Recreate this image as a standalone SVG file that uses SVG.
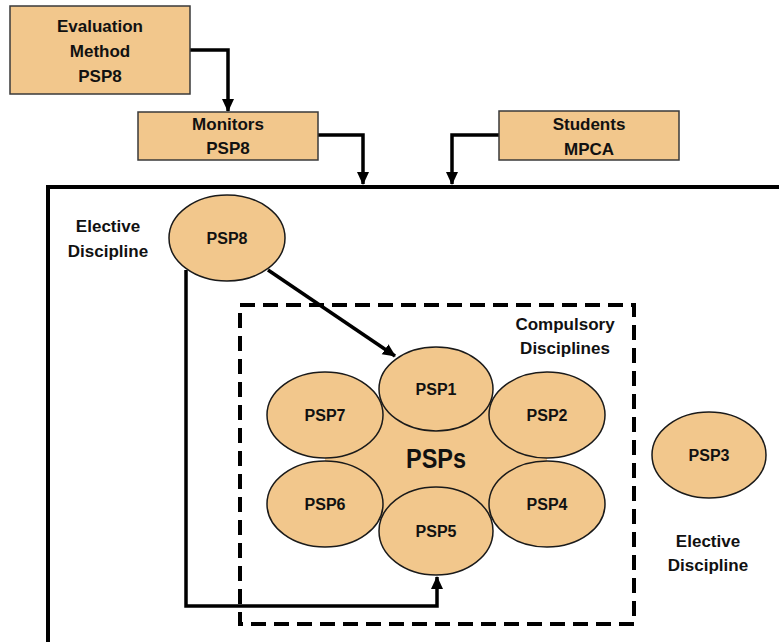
<svg xmlns="http://www.w3.org/2000/svg" width="779" height="642" viewBox="0 0 779 642">
<defs>
<style>
.box{fill:#F2C78C;stroke:#3a3a3a;stroke-width:1.5}
.ell{fill:#F2C78C;stroke:#1a1a1a;stroke-width:1.5}
.t{font-family:"Liberation Sans",Arial,sans-serif;font-weight:bold;font-size:17px;fill:#111;text-anchor:middle}
.e{font-family:"Liberation Sans",Arial,sans-serif;font-weight:bold;font-size:16px;fill:#111;text-anchor:middle}
.c{fill:none;stroke:#000;stroke-width:3.5}
</style>
<marker id="ah" markerUnits="userSpaceOnUse" markerWidth="14" markerHeight="14" viewBox="0 0 14 14" refX="12" refY="7" orient="auto">
<path d="M0,1 L13,7 L0,13 Z" fill="#000"/>
</marker>
</defs>
<rect width="779" height="642" fill="#fff"/>
<g id="frame">
<path d="M48,642 V187 H779" fill="none" stroke="#000" stroke-width="4"/>
<rect x="240" y="305" width="394" height="319" fill="none" stroke="#000" stroke-width="4" stroke-dasharray="15,8"/>
</g>
<g id="connectors">
<path class="c" d="M190,50 H228 V111" marker-end="url(#ah)"/>
<path class="c" d="M318,135 H363 V184" marker-end="url(#ah)"/>
<path class="c" d="M499,135 H452 V184" marker-end="url(#ah)"/>
<path class="c" d="M268,270 L395,356" marker-end="url(#ah)"/>
<path class="c" d="M186,270 V606 H437 V577" marker-end="url(#ah)"/>
</g>
<g id="evaluation">
<rect class="box" x="10" y="6" width="180" height="88"/>
<text class="t" x="100" y="32">Evaluation</text>
<text class="t" x="100" y="57">Method</text>
<text class="t" x="100" y="82">PSP8</text>
</g>
<g id="monitors">
<rect class="box" x="138" y="112" width="180" height="48"/>
<text class="t" x="228" y="130">Monitors</text>
<text class="t" x="228" y="154">PSP8</text>
</g>
<g id="students">
<rect class="box" x="499" y="111" width="180" height="49"/>
<text class="t" x="589" y="130">Students</text>
<text class="t" x="589" y="155">MPCA</text>
</g>
<g id="elective-label-1">
<text class="t" x="108" y="232">Elective</text>
<text class="t" x="108" y="257">Discipline</text>
</g>
<g id="psp8">
<ellipse class="ell" cx="227" cy="238" rx="58" ry="43"/>
<text class="e" x="227" y="244">PSP8</text>
</g>
<g id="compulsory-label">
<text class="t" x="565" y="330">Compulsory</text>
<text class="t" x="565" y="354">Disciplines</text>
</g>
<g id="psps">
<polygon points="436,389 547,415 547,504 436,531 325,504 325,415" fill="#F2C78C"/>
<text x="436" y="468" font-family="'Liberation Sans',Arial,sans-serif" font-weight="bold" font-size="27" fill="#111" text-anchor="middle" textLength="60" lengthAdjust="spacingAndGlyphs">PSPs</text>
</g>
<g id="psp1">
<ellipse class="ell" cx="436" cy="389" rx="57" ry="42"/>
<text class="e" x="436" y="395">PSP1</text>
</g>
<g id="psp7">
<ellipse class="ell" cx="325" cy="415" rx="58" ry="43"/>
<text class="e" x="325" y="421">PSP7</text>
</g>
<g id="psp2">
<ellipse class="ell" cx="547" cy="415" rx="58" ry="43"/>
<text class="e" x="547" y="421">PSP2</text>
</g>
<g id="psp6">
<ellipse class="ell" cx="325" cy="504" rx="58" ry="43"/>
<text class="e" x="325" y="510">PSP6</text>
</g>
<g id="psp4">
<ellipse class="ell" cx="547" cy="504" rx="58" ry="43"/>
<text class="e" x="547" y="510">PSP4</text>
</g>
<g id="psp5">
<ellipse class="ell" cx="436" cy="531" rx="57" ry="44"/>
<text class="e" x="436" y="537">PSP5</text>
</g>
<g id="psp3">
<ellipse class="ell" cx="709" cy="455" rx="57" ry="43"/>
<text class="e" x="709" y="461">PSP3</text>
</g>
<g id="elective-label-2">
<text class="t" x="708" y="547">Elective</text>
<text class="t" x="708" y="571">Discipline</text>
</g>
</svg>
